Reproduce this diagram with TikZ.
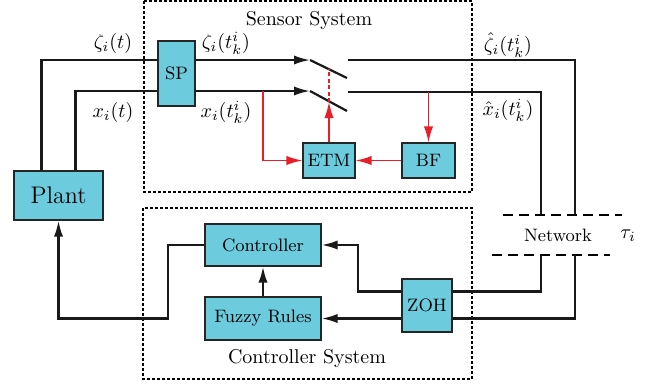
\documentclass[tikz,border=0pt]{standalone}
\usetikzlibrary{arrows.meta}
\definecolor{boxfill}{RGB}{108,203,221}
\definecolor{sigred}{RGB}{232,30,40}
\begin{document}
\begin{tikzpicture}[x=0.5pt,y=-0.5pt,
  blk/.style={draw=black!85,line width=0.6pt,fill=boxfill,inner sep=0pt,font=\small},
  sig/.style={line width=1.1pt,black!90},
  rsig/.style={line width=0.7pt,sigred},
  tip/.style={-{Latex[length=8pt,width=4.6pt]}},
  sysbox/.style={line width=0.6pt,dash pattern=on 1.5pt off 1pt},
  netline/.style={line width=1.1pt,dash pattern=on 5pt off 3pt}]
\useasboundingbox (0,0) rectangle (658,387);
% system frames
\draw[sysbox] (144,1) rectangle (472,192);
\draw[sysbox] (143,208) rectangle (472,379);
\node (senslab) at (309,20) {Sensor System};
\node (ctrllab) at (307,358) {Controller System};
% blocks
\node[blk,minimum width=18.5pt,minimum height=32.5pt] (SP) at (176.5,73.5) {SP};
\node[blk,minimum width=44.5pt,minimum height=24.5pt,font=\large] (Plant) at (58.5,195.5) {Plant};
\node[blk,minimum width=26pt,minimum height=17.5pt] (ETM) at (329,160.5) {ETM};
\node[blk,minimum width=26.5pt,minimum height=17.5pt] (BF) at (428.5,160.5) {BF};
\node[blk,minimum width=25pt,minimum height=26.5pt] (ZOH) at (427,305.5) {ZOH};
\node[blk,minimum width=58pt,minimum height=21pt] (Ctrl) at (263,245) {Controller};
\node[blk,minimum width=58pt,minimum height=21.5pt] (Fuzzy) at (263,318.5) {Fuzzy Rules};
% coordinates
\coordinate (zs) at (310,60);
\coordinate (ze) at (347,78);
\coordinate (zo) at (348,60);
\coordinate (zn) at (575,215);
\coordinate (xs) at (310,91);
\coordinate (xe) at (347,111);
\coordinate (xo) at (348,92);
\coordinate (xn) at (541,215);
\coordinate (r1) at (263,91);
\coordinate (sw) at (329,102);
\coordinate (sw2) at (329,69);
\coordinate (nt1) at (503,215);
\coordinate (nt2) at (622,215);
\coordinate (nb1) at (492,255);
\coordinate (nb2) at (610,255);
\coordinate (na) at (541,255);
\coordinate (nb) at (575,255);
\coordinate (cz) at (358,245);
\coordinate (c1) at (168,318.5);
% plant outputs to SP
\draw[sig] ([xshift=-8.5pt]Plant.north) |- (SP.west|-zs);
\draw[sig] ([xshift=8.5pt]Plant.north) |- (SP.west|-xs);
% SP to switches
\draw[sig,tip] (SP.east|-zs) -- (zs);
\draw[sig] (zs) -- (ze);
\draw[sig,tip] (SP.east|-xs) -- (xs);
\draw[sig] (xs) -- (xe);
% switch outputs to network
\draw[sig] (zo) -| (zn);
\draw[sig] (xo) -| (xn);
% event-trigger loop
\draw[rsig,tip] (r1) |- (ETM.west);
\draw[rsig,tip] (BF.north|-xo) -- (BF.north);
\draw[rsig,tip] (BF.west) -- (ETM.east);
\draw[rsig,tip] (ETM.north) -- (sw);
\draw[rsig,dash pattern=on 2pt off 1.2pt] (sw) -- (sw2);
% network
\draw[netline] (nt1) -- (nt2);
\draw[netline] (nb1) -- (nb2);
\node (net) at (558,235) {\small Network};
\node (tau) at (628,236) {$\tau_i$};
\draw[sig] (na) |- ([yshift=7pt]ZOH.east);
\draw[sig] (nb) |- (ZOH.east|-Fuzzy.east);
% controller side
\draw[sig,tip] ([yshift=7pt]ZOH.west) -| (cz) -- (Ctrl.east);
\draw[sig,tip] (ZOH.west|-Fuzzy.east) -- (Fuzzy.east);
\draw[sig,tip] (Fuzzy.north) -- (Ctrl.south);
\draw[sig,tip] (Ctrl.west) -| (c1) -| (Plant.south);
% labels
\node (lz) at (113,43) {$\zeta_i(t)$};
\node (lx) at (113,112) {$x_i(t)$};
\node (lzk) at (226,43) {$\zeta_i(t_k^i)$};
\node (lxk) at (226,112) {$x_i(t_k^i)$};
\node (lzh) at (508,45) {$\hat{\zeta}_i(t_k^i)$};
\node (lxh) at (508,110) {$\hat{x}_i(t_k^i)$};
\end{tikzpicture}
\end{document}
